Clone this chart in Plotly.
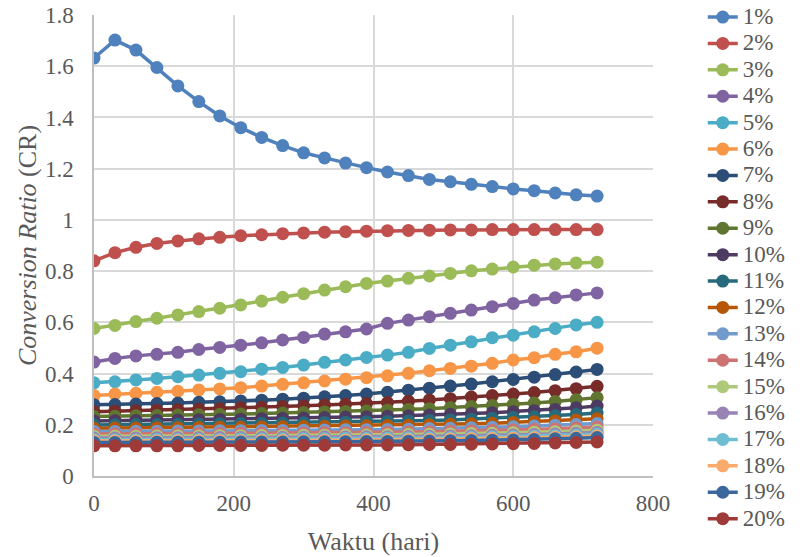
import plotly.graph_objects as go

days = [0, 30, 60, 90, 120, 150, 180, 210, 240, 270, 300, 330, 360, 390, 420, 450, 480, 510, 540, 570, 600, 630, 660, 690, 720]

names = ["1%", "2%", "3%", "4%", "5%", "6%", "7%", "8%", "9%", "10%",
         "11%", "12%", "13%", "14%", "15%", "16%", "17%", "18%", "19%", "20%"]

s01 = [1.632, 1.702, 1.663, 1.595, 1.523, 1.462, 1.406, 1.360, 1.322, 1.290, 1.262, 1.242, 1.222, 1.204, 1.187, 1.173, 1.158, 1.149, 1.139, 1.130, 1.121, 1.114, 1.105, 1.098, 1.093]
s02 = [0.840, 0.872, 0.893, 0.908, 0.918, 0.926, 0.932, 0.938, 0.942, 0.946, 0.949, 0.952, 0.954, 0.956, 0.958, 0.959, 0.960, 0.961, 0.961, 0.962, 0.962, 0.962, 0.962, 0.962, 0.962]
s03 = [0.576, 0.588, 0.603, 0.616, 0.629, 0.642, 0.655, 0.668, 0.683, 0.698, 0.712, 0.726, 0.739, 0.752, 0.761, 0.772, 0.781, 0.791, 0.801, 0.808, 0.816, 0.823, 0.828, 0.832, 0.835]
s04 = [0.445, 0.459, 0.469, 0.475, 0.483, 0.494, 0.502, 0.511, 0.520, 0.531, 0.541, 0.554, 0.563, 0.574, 0.596, 0.609, 0.622, 0.635, 0.648, 0.661, 0.674, 0.687, 0.696, 0.707, 0.715]
s05 = [0.364, 0.368, 0.375, 0.381, 0.388, 0.394, 0.401, 0.407, 0.417, 0.424, 0.433, 0.444, 0.453, 0.463, 0.472, 0.483, 0.498, 0.511, 0.524, 0.540, 0.550, 0.563, 0.576, 0.590, 0.600]
s06 = [0.314, 0.320, 0.323, 0.327, 0.331, 0.336, 0.340, 0.345, 0.351, 0.358, 0.364, 0.371, 0.378, 0.384, 0.391, 0.401, 0.411, 0.420, 0.429, 0.440, 0.453, 0.462, 0.475, 0.485, 0.499]
s07 = [0.278, 0.279, 0.281, 0.283, 0.285, 0.288, 0.290, 0.293, 0.296, 0.300, 0.304, 0.309, 0.314, 0.320, 0.327, 0.335, 0.343, 0.351, 0.359, 0.368, 0.377, 0.386, 0.396, 0.406, 0.416]
s08 = [0.251, 0.253, 0.255, 0.257, 0.259, 0.261, 0.263, 0.266, 0.268, 0.271, 0.274, 0.277, 0.280, 0.283, 0.287, 0.292, 0.297, 0.302, 0.308, 0.314, 0.320, 0.326, 0.333, 0.341, 0.350]
s09 = [0.232, 0.233, 0.235, 0.236, 0.238, 0.239, 0.241, 0.242, 0.244, 0.246, 0.248, 0.250, 0.252, 0.254, 0.257, 0.260, 0.263, 0.267, 0.271, 0.275, 0.280, 0.285, 0.291, 0.298, 0.306]
s10 = [0.215, 0.216, 0.217, 0.218, 0.219, 0.220, 0.221, 0.222, 0.224, 0.225, 0.226, 0.228, 0.230, 0.231, 0.233, 0.235, 0.238, 0.241, 0.244, 0.247, 0.251, 0.255, 0.260, 0.266, 0.273]
s11 = [0.199, 0.200, 0.201, 0.201, 0.202, 0.203, 0.204, 0.205, 0.206, 0.207, 0.208, 0.209, 0.210, 0.212, 0.213, 0.215, 0.217, 0.219, 0.222, 0.225, 0.228, 0.231, 0.235, 0.240, 0.246]
s12 = [0.186, 0.187, 0.187, 0.188, 0.188, 0.189, 0.190, 0.190, 0.191, 0.192, 0.193, 0.194, 0.195, 0.196, 0.197, 0.198, 0.200, 0.202, 0.204, 0.206, 0.209, 0.212, 0.215, 0.219, 0.224]
s13 = [0.174, 0.174, 0.175, 0.175, 0.176, 0.176, 0.177, 0.177, 0.178, 0.178, 0.179, 0.180, 0.181, 0.181, 0.182, 0.183, 0.185, 0.186, 0.188, 0.190, 0.192, 0.195, 0.198, 0.201, 0.205]
s14 = [0.164, 0.164, 0.165, 0.165, 0.165, 0.166, 0.166, 0.167, 0.167, 0.168, 0.168, 0.169, 0.169, 0.170, 0.171, 0.172, 0.173, 0.175, 0.176, 0.178, 0.180, 0.182, 0.184, 0.187, 0.190]
s15 = [0.155, 0.155, 0.155, 0.156, 0.156, 0.156, 0.157, 0.157, 0.158, 0.158, 0.159, 0.159, 0.160, 0.160, 0.161, 0.162, 0.163, 0.164, 0.166, 0.167, 0.169, 0.171, 0.173, 0.176, 0.179]
s16 = [0.148, 0.148, 0.148, 0.149, 0.149, 0.149, 0.150, 0.150, 0.150, 0.151, 0.151, 0.152, 0.152, 0.153, 0.153, 0.154, 0.155, 0.156, 0.157, 0.159, 0.160, 0.162, 0.164, 0.167, 0.170]
s17 = [0.142, 0.142, 0.142, 0.143, 0.143, 0.143, 0.143, 0.144, 0.144, 0.144, 0.145, 0.145, 0.146, 0.146, 0.147, 0.148, 0.148, 0.149, 0.150, 0.152, 0.153, 0.155, 0.157, 0.160, 0.163]
s18 = [0.137, 0.137, 0.137, 0.137, 0.138, 0.138, 0.138, 0.138, 0.139, 0.139, 0.139, 0.140, 0.140, 0.141, 0.141, 0.142, 0.143, 0.144, 0.145, 0.146, 0.147, 0.149, 0.151, 0.153, 0.156]
s19 = [0.131, 0.131, 0.131, 0.132, 0.132, 0.132, 0.132, 0.133, 0.133, 0.133, 0.134, 0.134, 0.134, 0.135, 0.135, 0.136, 0.137, 0.138, 0.139, 0.140, 0.141, 0.143, 0.145, 0.147, 0.150]
s20 = [0.118, 0.118, 0.118, 0.118, 0.118, 0.119, 0.119, 0.119, 0.119, 0.120, 0.120, 0.120, 0.121, 0.121, 0.121, 0.122, 0.123, 0.123, 0.124, 0.125, 0.126, 0.127, 0.129, 0.131, 0.133]

series = [s01, s02, s03, s04, s05, s06, s07, s08, s09, s10,
          s11, s12, s13, s14, s15, s16, s17, s18, s19, s20]

colors = ["#4F81BD", "#C0504D", "#9BBB59", "#8064A2", "#4BACC6", "#F79646",
          "#2C4D75", "#772C2A", "#5F7530", "#4D3B62", "#276A7C", "#B65708",
          "#729ACA", "#CD7371", "#AFC97A", "#9983B5", "#6FBDD1", "#F9AB6B",
          "#3A679C", "#9E3B39"]

FONT = "Liberation Serif, Times New Roman, serif"
TXT = "#595959"

fig = go.Figure()
for name, vals, col in zip(names, series, colors):
    fig.add_trace(go.Scatter(
        x=days, y=vals, mode="lines+markers",
        name='<span style="font-size:23px">' + name + '</span>',
        line=dict(color=col, width=3.5),
        marker=dict(color=col, size=13),
    ))

fig.update_layout(
    width=803, height=557,
    margin=dict(l=94, r=150, t=15, b=81, autoexpand=False),
    paper_bgcolor="white", plot_bgcolor="white",
    font=dict(family=FONT, color=TXT, size=23),
    showlegend=True,
    legend=dict(
        x=1.089, xanchor="left", y=1.035, yanchor="top",
        font=dict(family=FONT, size=18, color=TXT),
        tracegroupgap=0, maxheight=557,
        bgcolor="rgba(0,0,0,0)",
    ),
    xaxis=dict(
        range=[0, 800], dtick=200, tick0=0,
        showgrid=True, gridcolor="#D9D9D9", gridwidth=1.5,
        showline=True, linecolor="#BFBFBF", linewidth=1.5,
        zeroline=False, ticks="", ticklabelstandoff=6,
        tickfont=dict(family=FONT, size=23, color=TXT),
        title=dict(text="Waktu (hari)", font=dict(family=FONT, size=26, color=TXT), standoff=16),
    ),
    yaxis=dict(
        range=[0, 1.8], dtick=0.2, tick0=0,
        showgrid=True, gridcolor="#D9D9D9", gridwidth=1.5,
        showline=True, linecolor="#BFBFBF", linewidth=1.5,
        zeroline=False, ticks="", ticklabelstandoff=14,
        tickfont=dict(family=FONT, size=23, color=TXT),
        title=dict(text="<i>Conversion Ratio</i> (CR)", font=dict(family=FONT, size=26, color=TXT), standoff=1),
    ),
)

fig.write_html("out.html")
